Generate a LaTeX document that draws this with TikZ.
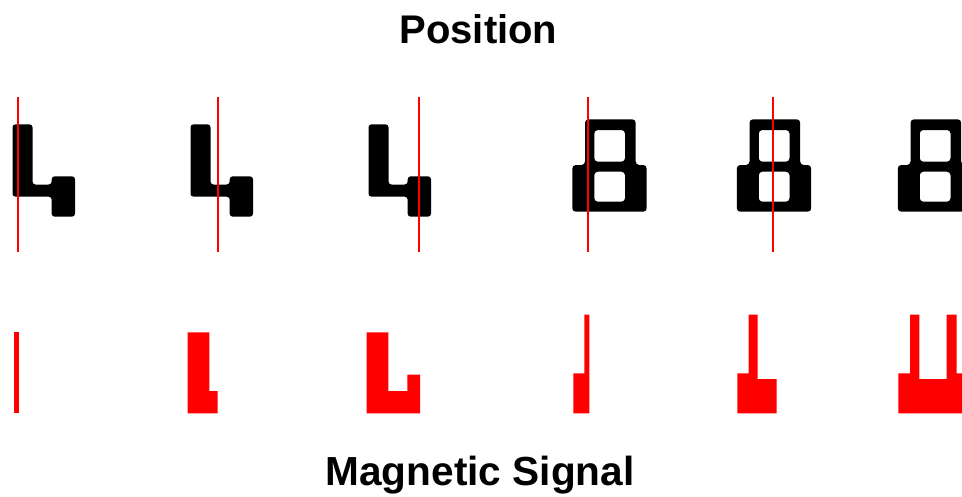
\documentclass[tikz,border=0pt]{standalone}
\usepackage{fontspec}
\setmainfont{Liberation Sans}
\definecolor{sigred}{RGB}{255,0,0}
\tikzset{
  titletext/.style={font=\bfseries\fontsize{40}{48}\selectfont, anchor=base, inner sep=0pt},
  magtext/.style={font=\bfseries\fontsize{40.6}{48}\selectfont, anchor=base, inner sep=0pt},
  glyph/.style={fill=black, rounded corners=3pt},
  glypheight/.style={fill=black, even odd rule, rounded corners=3.5pt},
  posline/.style={draw=sigred, line width=1.8pt},
  signal/.style={fill=sigred}
}
\begin{document}
\begin{tikzpicture}[x=1pt,y=-1pt]
\useasboundingbox (0,0) rectangle (962,496);
\clip (0,0) rectangle (962,496);
\fill[white] (0,0) rectangle (962,496);
% titles
\node[titletext] (pos) at (478.5,43.3) {Position};
\node[magtext] (mag) at (480,485.7) {Magnetic Signal};
% digit 4 glyphs
\foreach \dx in {0,178,356}{
  \path[glyph, shift={(\dx,0)}]
    (12.5,124.3) -- (32.5,124.3) -- (32.5,184.5) -- (51.7,184.5) -- (51.7,176.3)
    -- (75,176.3) -- (75,216.7) -- (51.7,216.7) -- (51.7,196.7) -- (12.5,196.7) -- cycle;
}
% digit 8 glyphs
\foreach \dx in {0,164.5,325.5}{
  \path[glypheight, shift={(\dx,0)}]
    (585,119.3) -- (635.7,119.3) -- (635.7,165) -- (646.7,165) -- (646.7,211.7)
    -- (572.3,211.7) -- (572.3,165) -- (585,165) -- cycle
    (594.3,130) rectangle (625,161.7)
    (594.3,171.7) rectangle (625,201.7);
}
% position lines
\foreach \lx in {18.3,218,419.3,588,773.3}{
  \draw[posline] (\lx,97) -- (\lx,252);
}
% signals
\path[signal] (14,413.3) rectangle (19.3,332.3);
\path[signal] (187.7,413.3) -- (187.7,332.3) -- (209.3,332.3) -- (209.3,391) -- (217.7,391) -- (217.7,413.3) -- cycle;
\path[signal] (366.7,413.3) -- (366.7,332.3) -- (388.3,332.3) -- (388.3,391) -- (407.3,391) -- (407.3,374.7) -- (420,374.7) -- (420,413.3) -- cycle;
\path[signal] (573.3,413.3) -- (573.3,373.3) -- (584.3,373.3) -- (584.3,314.7) -- (589.3,314.7) -- (589.3,413.3) -- cycle;
\path[signal] (737.3,413.3) -- (737.3,373.3) -- (748.7,373.3) -- (748.7,314.7) -- (757.7,314.7) -- (757.7,379) -- (776.7,379) -- (776.7,413.3) -- cycle;
\path[signal] (898.3,413.3) -- (898.3,373.3) -- (910,373.3) -- (910,314.7) -- (919.3,314.7) -- (919.3,379) -- (946.7,379) -- (946.7,314.7) -- (956.7,314.7) -- (956.7,373.3) -- (962,373.3) -- (962,413.3) -- cycle;
\end{tikzpicture}
\end{document}
